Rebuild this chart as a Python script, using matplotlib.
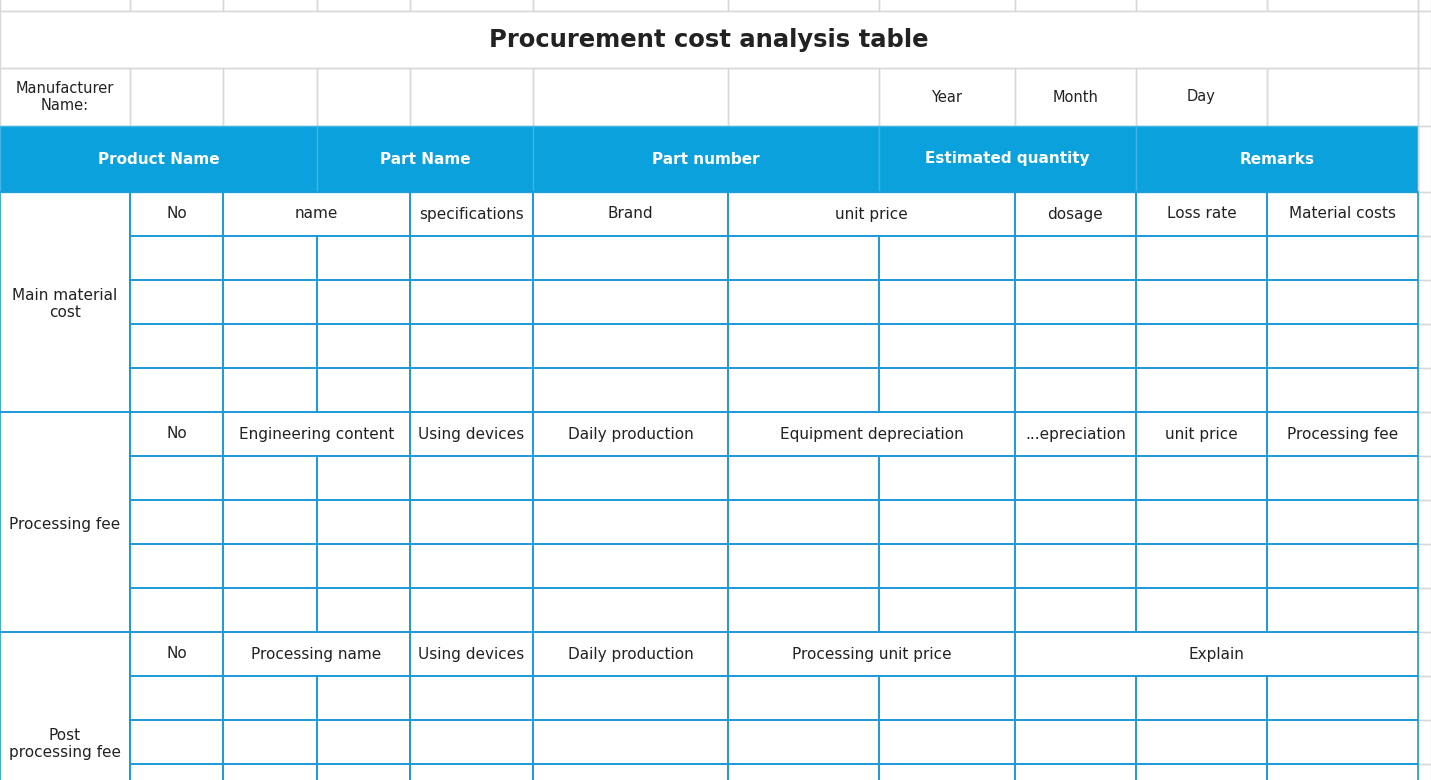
import matplotlib
matplotlib.use("Agg")
import matplotlib.pyplot as plt
from matplotlib.patches import Rectangle

title = "Procurement cost analysis table"
maker_label = "Manufacturer\nName:"
date_labels = ["Year", "Month", "Day"]
header_labels = ["Product Name", "Part Name", "Part number", "Estimated quantity", "Remarks"]
sections = ["Main material\ncost", "Processing fee", "Post\nprocessing fee"]
sec1_cols = ["No", "name", "specifications", "Brand", "unit price", "dosage", "Loss rate", "Material costs"]
sec2_cols = ["No", "Engineering content", "Using devices", "Daily production", "Equipment depreciation",
             "...epreciation", "unit price", "Processing fee"]
sec3_cols = ["No", "Processing name", "Using devices", "Daily production", "Processing unit price", "Explain"]

# layout
X = [0, 130, 223, 317, 410, 533, 728, 879, 1015, 1136, 1267, 1418, 1431]
BLUE = "#1a9bd7"
GRAY = "#d8d8d8"
HEAD = "#0aa1dd"

fig = plt.figure(figsize=(14.31, 7.8), dpi=100)
ax = fig.add_axes([0, 0, 1, 1])
ax.set_xlim(0, 1431); ax.set_ylim(780, 0); ax.axis("off")

def cell(x0, x1, y0, y1, color, lw=1.2, fill=None, z=2):
    ax.add_patch(Rectangle((x0, y0), x1 - x0, y1 - y0, facecolor=fill if fill else "none",
                           edgecolor=color, lw=lw, zorder=z))

def txt(x, y, s, **kw):
    d = dict(ha="center", va="center", fontsize=11, color="#222222", family="DejaVu Sans")
    d.update(kw)
    ax.text(x, y, s, zorder=5, **d)

# top gray grid
for i in range(len(X) - 1):
    cell(X[i], X[i + 1], -5, 11, GRAY, 1)
cell(0, 1418, 11, 68, GRAY, 1)
cell(1418, 1431, 11, 68, GRAY, 1)
txt(709, 40, title, fontsize=17.5, fontweight="bold")
cell(0, 130, 68, 126, GRAY, 1)
for i in range(1, len(X) - 1):
    cell(X[i], X[i + 1], 68, 126, GRAY, 1)
txt(65, 97, maker_label, fontsize=10.5)
for k, lab in enumerate(date_labels):
    txt((X[7 + k] + X[8 + k]) / 2, 97, lab, fontsize=10.5)

# header
hs = [(0, 3), (3, 5), (5, 7), (7, 9), (9, 11)]
for (a, b), lab in zip(hs, header_labels):
    cell(X[a], X[b], 126, 192, "#3fb3e3", 1, fill=HEAD)
    txt((X[a] + X[b]) / 2, 159, lab, color="white", fontweight="bold", fontsize=11)
cell(1418, 1431, 126, 192, GRAY, 1)

RH = 44
def section(y0, label, heads, spans, nrows=4):
    ys = [y0 + RH * i for i in range(nrows + 2)]
    cell(X[0], X[1], ys[0], ys[-1], BLUE)
    txt(65, (ys[0] + ys[-1]) / 2 + 2, label)
    for (a, b), lab in zip(spans, heads):
        cell(X[a], X[b], ys[0], ys[1], BLUE)
        txt((X[a] + X[b]) / 2, (ys[0] + ys[1]) / 2, lab)
    for r in range(1, nrows + 1):
        for i in range(1, 11):
            cell(X[i], X[i + 1], ys[r], ys[r + 1], BLUE)
    for r in range(nrows + 1):
        cell(1418, 1431, ys[r], ys[r + 1], GRAY, 1, z=1)

sp1 = [(1, 2), (2, 4), (4, 5), (5, 6), (6, 8), (8, 9), (9, 10), (10, 11)]
sp3 = [(1, 2), (2, 4), (4, 5), (5, 6), (6, 8), (8, 11)]
section(192, sections[0], sec1_cols, sp1)
section(412, sections[1], sec2_cols, sp1)
section(632, sections[2], sec3_cols, sp3)

fig.savefig("out.png", dpi=100)
